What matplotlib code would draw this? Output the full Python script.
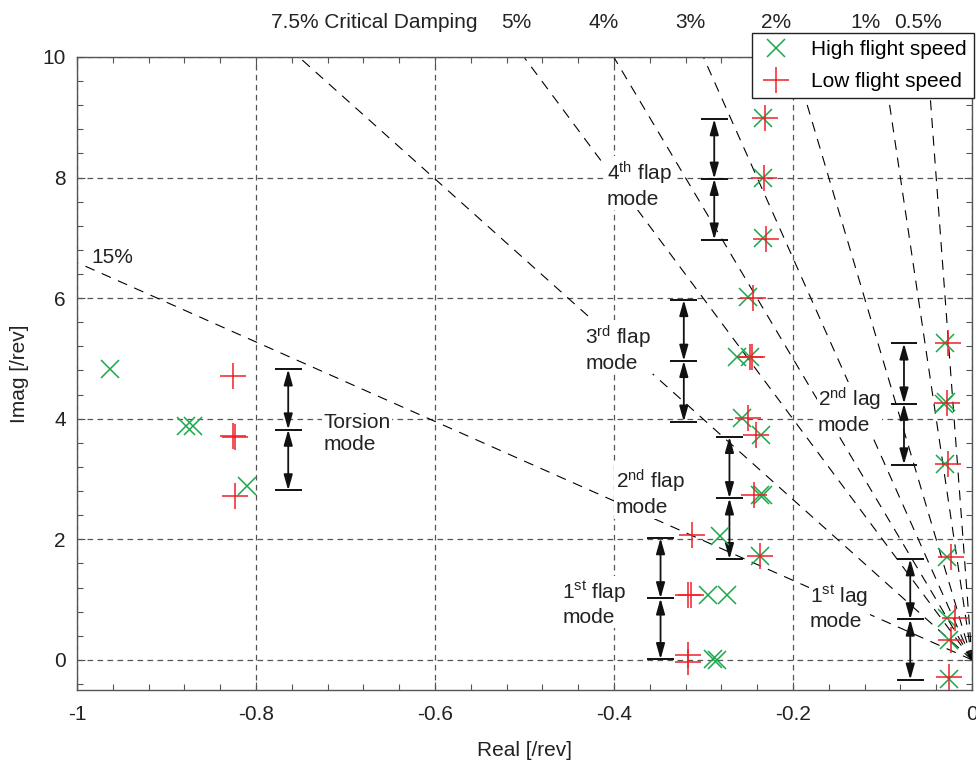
import matplotlib
matplotlib.use('Agg')
import matplotlib.pyplot as plt
from matplotlib.ticker import MultipleLocator
from matplotlib.patches import ArrowStyle
import numpy as np

plt.rcParams['font.family'] = ['Liberation Sans', 'DejaVu Sans']
plt.rcParams['mathtext.fontset'] = 'custom'
plt.rcParams['mathtext.rm'] = 'Liberation Sans'
plt.rcParams['mathtext.it'] = 'Liberation Sans'
plt.rcParams['mathtext.default'] = 'regular'

# ---------------- data ----------------
high_x = [-0.963, -0.878, -0.870, -0.810,
          -0.282, -0.295, -0.274, -0.289, -0.285,
          -0.236, -0.237, -0.234, -0.237,
          -0.250, -0.263, -0.248, -0.257,
          -0.233, -0.233, -0.233,
          -0.030, -0.031, -0.029, -0.030,
          -0.028, -0.028, -0.026, -0.026]
high_y = [4.82, 3.88, 3.88, 2.89,
          2.05, 1.08, 1.08, 0.01, 0.00,
          3.73, 2.74, 2.73, 1.72,
          6.02, 5.03, 5.03, 4.01,
          8.98, 8.00, 6.99,
          5.25, 4.25, 4.27, 3.25,
          1.71, 0.69, 0.33, -0.32]

low_x = [-0.826, -0.826, -0.824, -0.823,
         -0.313, -0.317, -0.314, -0.317, -0.317,
         -0.241, -0.244, -0.237,
         -0.245, -0.248, -0.246, -0.250,
         -0.231, -0.232, -0.230,
         -0.027, -0.028, -0.027,
         -0.024, -0.019, -0.023, -0.026]
low_y = [4.71, 3.71, 3.70, 2.71,
         2.07, 1.08, 1.08, 0.08, -0.04,
         3.73, 2.74, 1.72,
         6.00, 5.03, 5.03, 4.01,
         8.98, 8.00, 6.98,
         5.25, 4.26, 3.25,
         1.70, 0.70, 0.33, -0.29]

damping_pct = [15, 7.5, 5, 4, 3, 2, 1, 0.5]

mode_names = ['Torsion\nmode', '1$^{st}$ flap\nmode', '2$^{nd}$ flap\nmode',
              '3$^{rd}$ flap\nmode', '4$^{th}$ flap\nmode',
              '1$^{st}$ lag\nmode', '2$^{nd}$ lag\nmode']
mode_x = [-0.764, -0.348, -0.271, -0.322, -0.288, -0.069, -0.076]
mode_top = [4.82, 2.02, 3.70, 5.97, 8.97, 1.67, 5.25]
mode_mid = [3.82, 1.02, 2.68, 4.96, 7.98, 0.67, 4.25]
mode_bot = [2.81, 0.01, 1.67, 3.95, 6.97, -0.33, 3.24]
label_x = [-0.725, -0.458, -0.398, -0.432, -0.408, -0.181, -0.172]
label_y = [3.76, 0.94, 2.77, 5.17, 7.89, 0.88, 4.14]

top_labels = ['7.5% Critical Damping', '5%', '4%', '3%', '2%', '1%', '0.5%']
top_label_px = [374, 516, 604, 690, 776, 866, 918]

GREEN = '#19a84a'
RED = '#ee2229'
FS = 15

W, H = 976, 772
fig = plt.figure(figsize=(W / 100, H / 100), dpi=100)
ax = fig.add_axes([77 / W, 1 - 690 / H, 895 / W, 633 / H])
ax.set_xlim(-1, 0)
ax.set_ylim(-0.5, 10)

# damping lines
for z in damping_pct:
    zeta = z / 100.0
    slope = -np.sqrt(1 - zeta ** 2) / zeta
    y_m1 = -slope
    if y_m1 <= 10:
        xe, ye = -1.0, y_m1
    else:
        ye = 10.0
        xe = ye / slope
    ax.plot([0, xe], [0, ye], color='k', lw=0.8, dashes=(9, 7), zorder=1)

ax.text(-0.984, 6.67, '15%', fontsize=FS, ha='left', va='center', color='#222')

# grid
ax.xaxis.set_major_locator(MultipleLocator(0.2))
ax.yaxis.set_major_locator(MultipleLocator(2))
ax.xaxis.set_minor_locator(MultipleLocator(0.04))
ax.yaxis.set_minor_locator(MultipleLocator(0.4))
ax.grid(True, which='major', color='#555555', lw=0.9, dashes=(4.5, 3.5), zorder=0)
ax.set_axisbelow(True)

# mode arrows
astyle = ArrowStyle('<|-|>', head_length=0.85, head_width=0.24)
for mx, t, m, b in zip(mode_x, mode_top, mode_mid, mode_bot):
    ax.hlines([t, m, b], mx - 0.015, mx + 0.015, color='#111', lw=1.4, zorder=4)
    for y0, y1 in ((t, m), (m, b)):
        ax.annotate('', xy=(mx, y1), xytext=(mx, y0),
                    arrowprops=dict(arrowstyle=astyle, color='#111', lw=1.3,
                                    shrinkA=0, shrinkB=0, mutation_scale=11),
                    zorder=4)

for name, lx, ly in zip(mode_names, label_x, label_y):
    ax.text(lx, ly, name, fontsize=FS, ha='left', va='center', color='#222',
            linespacing=1.2, zorder=3,
            bbox=dict(facecolor='white', edgecolor='none', pad=1.0))

# markers
hx, = ax.plot(high_x, high_y, linestyle='none', marker='x', ms=13, mew=1.1,
              color=GREEN, zorder=5, label='High flight speed')
lx_, = ax.plot(low_x, low_y, linestyle='none', marker='+', ms=19, mew=1.1,
               color=RED, zorder=5, label='Low flight speed')

# ticks & spines
ax.tick_params(which='both', direction='in', top=True, right=True,
               color='#555', labelsize=FS, labelcolor='#222', width=0.8)
ax.tick_params(which='major', length=6)
ax.tick_params(axis='x', which='major', pad=11)
ax.tick_params(axis='y', which='major', pad=8)
ax.tick_params(which='minor', length=4)
ax.set_xticks([-1, -0.8, -0.6, -0.4, -0.2, 0])
ax.set_xticklabels(['-1', '-0.8', '-0.6', '-0.4', '-0.2', '0'])
ax.set_yticks([0, 2, 4, 6, 8, 10])
for s in ax.spines.values():
    s.set_color('#555')
    s.set_linewidth(1.0)

ax.set_xlabel('Real [/rev]', fontsize=FS, color='#222', labelpad=12)
ax.set_ylabel('Imag [/rev]', fontsize=FS, color='#222', labelpad=10)

for t, px in zip(top_labels, top_label_px):
    fig.text(px / W, 1 - 22 / H, t, fontsize=FS, ha='center', va='center', color='#222')

leg = fig.legend(handles=[hx, lx_], loc='upper left',
                 bbox_to_anchor=(752 / W, 1 - 33 / H), fontsize=FS,
                 frameon=True, fancybox=False, framealpha=1,
                 edgecolor='#222', borderpad=0.35, handlelength=1.6,
                 handletextpad=0.9, labelspacing=0.6, borderaxespad=0)
leg.get_frame().set_linewidth(1.0)
leg.set_zorder(10)

fig.savefig('out.png', dpi=100)
